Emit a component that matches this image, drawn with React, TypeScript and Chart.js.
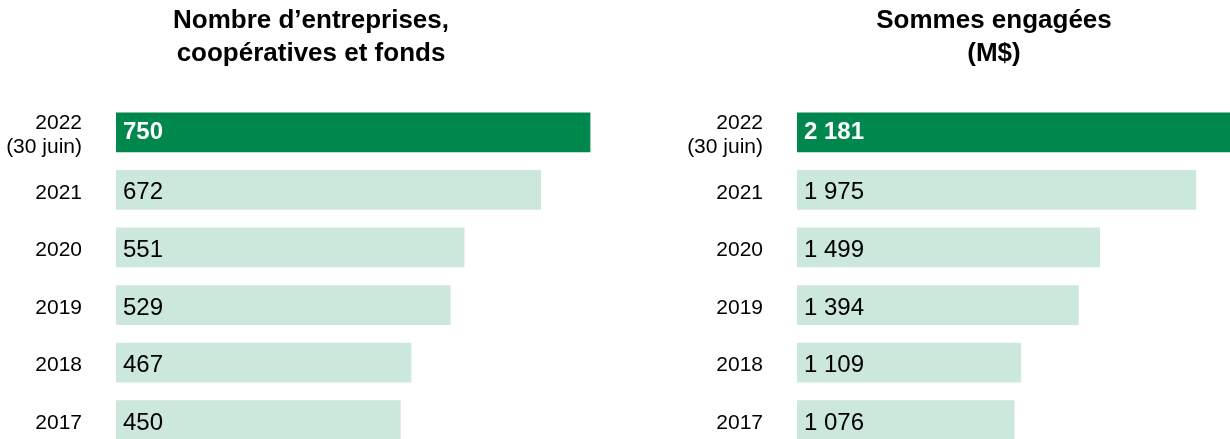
import React, { useEffect, useRef } from "react";
import { Chart, registerables } from "chart.js";

Chart.register(...registerables);

// ---- data ----
const categories: (string | string[])[] = [["2022", "(30 juin)"], "2021", "2020", "2019", "2018", "2017"];
const entreprises = [750, 672, 551, 529, 467, 450];
const sommes = [2181, 1975, 1499, 1394, 1109, 1076];
const titleLeft = ["Nombre d’entreprises,", "coopératives et fonds"];
const titleRight = ["Sommes engagées", "(M$)"];

const DARK = "#00874E";
const LIGHT = "#CCE7DC";
const FONT = "'Liberation Sans', Arial, Helvetica, sans-serif";

function fmt(v: number): string {
  return String(v).replace(/\B(?=(\d{3})+(?!\d))/g, " ");
}

const valueLabels = {
  id: "valueLabels",
  afterDatasetsDraw(chart: any) {
    const ctx = chart.ctx;
    const meta = chart.getDatasetMeta(0);
    const data = chart.data.datasets[0].data as number[];
    ctx.save();
    ctx.textBaseline = "middle";
    ctx.textAlign = "left";
    meta.data.forEach((bar: any, i: number) => {
      const first = i === 0;
      ctx.font = `${first ? "bold " : ""}24px ${FONT}`;
      ctx.fillStyle = first ? "#ffffff" : "#000000";
      ctx.fillText(fmt(data[i]), bar.base + 7, bar.y + (first ? 0 : 3));
    });
    ctx.restore();
  },
};

type PanelProps = {
  values: number[];
  title: string[];
  max: number;
  axisWidth: number;
  left: number;
  width: number;
};

function Panel({ values, title, max, axisWidth, left, width }: PanelProps) {
  const ref = useRef<HTMLCanvasElement | null>(null);
  useEffect(() => {
    if (!ref.current) return;
    const chart = new Chart(ref.current, {
      type: "bar",
      data: {
        labels: categories as any,
        datasets: [
          {
            data: values,
            backgroundColor: values.map((_, i) => (i === 0 ? DARK : LIGHT)),
            borderWidth: 0,
            barPercentage: 0.69,
            categoryPercentage: 1,
          },
        ],
      },
      options: {
        indexAxis: "y",
        responsive: false,
        maintainAspectRatio: false,
        animation: false,
        layout: { padding: 0 },
        plugins: {
          legend: { display: false },
          tooltip: { enabled: false },
          title: {
            display: true,
            text: title,
            color: "#000000",
            font: { family: FONT, size: 26, weight: "bold", lineHeight: 1.246 },
            padding: { top: 5, bottom: 33.7 },
          },
        },
        scales: {
          x: { display: false, min: 0, max },
          y: {
            grid: { display: false, drawTicks: false },
            border: { display: false },
            ticks: {
              color: "#000000",
              font: { family: FONT, size: 21, lineHeight: 1.143 },
              padding: 34,
              labelOffset: 3,
            },
            afterFit: (s: any) => {
              s.width = axisWidth;
              s.paddingTop = 0;
              s.paddingBottom = 0;
            },
          },
        },
      },
      plugins: [valueLabels],
    } as any);
    return () => chart.destroy();
  }, []);
  return (
    <canvas
      ref={ref}
      width={width}
      height={449}
      style={{ position: "absolute", left, top: 0, width, height: 449 }}
    />
  );
}

export default function App() {
  return (
    <div
      style={{
        position: "absolute",
        left: 0,
        top: 0,
        width: 1230,
        height: 439,
        overflow: "hidden",
        background: "#ffffff",
      }}
    >
      <Panel values={entreprises} title={titleLeft} max={800} axisWidth={116} left={0} width={622} />
      <Panel values={sommes} title={titleRight} max={2800} axisWidth={172} left={625} width={738} />
    </div>
  );
}
